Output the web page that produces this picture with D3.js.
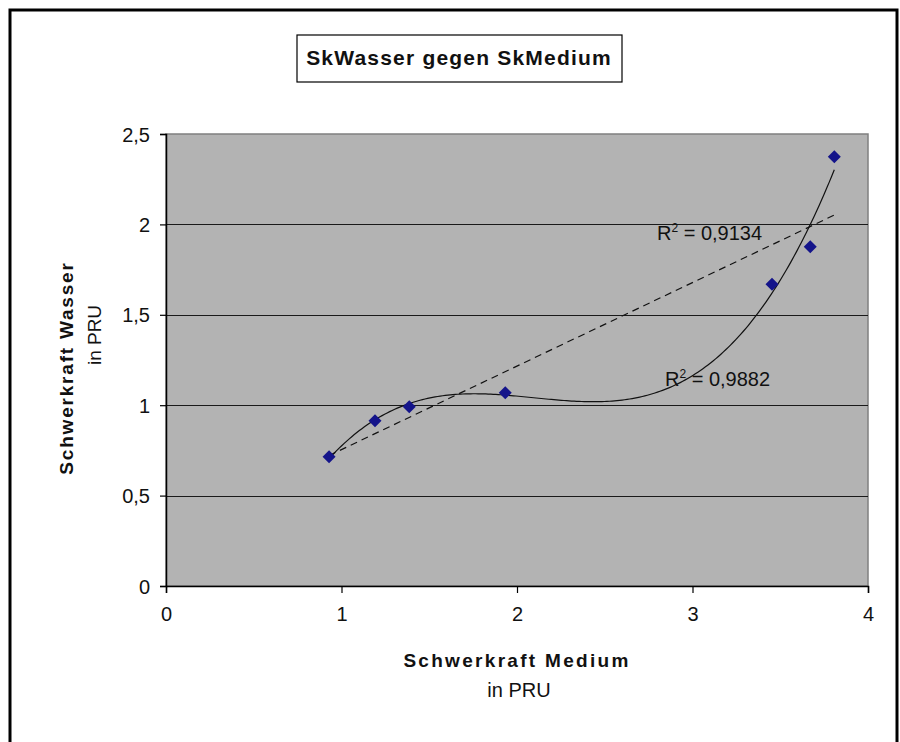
<!DOCTYPE html>
<html><head><meta charset="utf-8">
<script src="https://cdn.jsdelivr.net/npm/d3@7"></script>
<style>body{margin:0;background:#fff;}svg{display:block;font-family:"Liberation Sans",Arial,sans-serif;}</style>
</head><body>
<svg id="c" width="900" height="742"></svg>
<script>
const title = "SkWasser gegen SkMedium";
const xTitle = "Schwerkraft Medium";
const yTitle = "Schwerkraft Wasser";
const unitLabel = "in PRU";
const xValues = [0.929, 1.191, 1.386, 1.933, 3.453, 3.671, 3.808];
const yValues = [0.715, 0.914, 0.992, 1.069, 1.669, 1.877, 2.374];
const xTicks = [0, 1, 2, 3, 4];
const yTicks = [0, 0.5, 1, 1.5, 2, 2.5];
const r2Labels = ["0,9134", "0,9882"];
const polyOrder = 3;

const svg = d3.select("#c");
const plot = {l:166, r:868, t:134, b:586};
const x = d3.scaleLinear().domain([0,4]).range([plot.l, plot.r]);
const y = d3.scaleLinear().domain([0,2.5]).range([plot.b, plot.t]);
const fmt = v => String(v).replace(".", ",");

// outer frame
svg.append("rect").attr("x",10).attr("y",10).attr("width",887).attr("height",760)
  .attr("fill","#fff").attr("stroke","#000").attr("stroke-width",3);

// title box
svg.append("rect").attr("x",297).attr("y",35).attr("width",325).attr("height",47)
  .attr("fill","#fff").attr("stroke","#000").attr("stroke-width",1.2);
svg.append("text").attr("x",459).attr("y",65).attr("text-anchor","middle")
  .attr("font-size",21).attr("font-weight","bold").attr("letter-spacing",1.2).attr("fill","#111").text(title);

// plot area
svg.append("rect").attr("x",plot.l).attr("y",plot.t).attr("width",plot.r-plot.l).attr("height",plot.b-plot.t)
  .attr("fill","#b3b3b3").attr("stroke","#808080").attr("stroke-width",1.5);

// gridlines
svg.append("g").selectAll("line").data(yTicks.filter(d=>d>0 && d<2.5)).join("line")
  .attr("x1",plot.l).attr("x2",plot.r).attr("y1",d=>Math.round(y(d))+0.5).attr("y2",d=>Math.round(y(d))+0.5)
  .attr("stroke","#1a1a1a").attr("stroke-width",1);

// axes
const xAxis = d3.axisBottom(x).tickValues(xTicks).tickSize(7).tickPadding(14).tickFormat(fmt);
const yAxis = d3.axisLeft(y).tickValues(yTicks).tickSize(6).tickPadding(10).tickFormat(fmt);
const gx = svg.append("g").attr("transform",`translate(0,${plot.b})`).call(xAxis);
const gy = svg.append("g").attr("transform",`translate(${plot.l},0)`).call(yAxis);
[gx,gy].forEach(g=>{
  g.select(".domain").attr("stroke","#000").attr("stroke-width",1.5);
  g.selectAll(".tick line").attr("stroke","#000").attr("stroke-width",1.2);
  g.selectAll("text").attr("font-size",20).attr("fill","#111").attr("font-family","Liberation Sans, Arial, sans-serif");
});
gy.selectAll("text").attr("dy","0.35em");

// least-squares trendlines (computed from the data)
function polyfit(xs, ys, n){
  const m = n+1;
  const A = Array.from({length:m},()=>new Array(m+1).fill(0));
  for(let i=0;i<m;i++){
    for(let j=0;j<m;j++) A[i][j] = d3.sum(xs, v=>Math.pow(v,i+j));
    A[i][m] = d3.sum(xs.map((v,k)=>Math.pow(v,i)*ys[k]));
  }
  for(let i=0;i<m;i++){
    let p=i; for(let k=i+1;k<m;k++) if(Math.abs(A[k][i])>Math.abs(A[p][i])) p=k;
    [A[i],A[p]]=[A[p],A[i]];
    for(let k=0;k<m;k++){ if(k===i) continue; const f=A[k][i]/A[i][i]; for(let j=i;j<=m;j++) A[k][j]-=f*A[i][j]; }
  }
  return A.map((r,i)=>r[m]/r[i]);
}
const evalP = (c,v)=>c.reduce((s,ci,i)=>s+ci*Math.pow(v,i),0);

const xmin=d3.min(xValues), xmax=d3.max(xValues);
const lin = polyfit(xValues,yValues,1);
svg.append("line").attr("x1",x(xmin)).attr("y1",y(evalP(lin,xmin))).attr("x2",x(xmax)).attr("y2",y(evalP(lin,xmax)))
  .attr("stroke","#111").attr("stroke-width",1.2).attr("stroke-dasharray","7,5");

const poly = polyfit(xValues,yValues,polyOrder);
const pts = d3.range(0,201).map(i=>xmin+(xmax-xmin)*i/200);
svg.append("path").datum(pts).attr("fill","none").attr("stroke","#111").attr("stroke-width",1.2)
  .attr("d",d3.line().x(v=>x(v)).y(v=>y(evalP(poly,v))));

// markers
svg.append("g").selectAll("path").data(xValues.map((v,i)=>[v,yValues[i]])).join("path")
  .attr("transform",d=>`translate(${x(d[0])},${y(d[1])})`)
  .attr("d","M0,-6.5L6.5,0L0,6.5L-6.5,0Z").attr("fill","#14148a");

// R2 labels
const r2g = svg.append("g").attr("font-size",20).attr("fill","#111");
[[657,240,r2Labels[0]],[665,386,r2Labels[1]]].forEach(([px,py,t])=>{
  const tx = r2g.append("text").attr("x",px).attr("y",py);
  tx.append("tspan").text("R");
  tx.append("tspan").attr("font-size",12).attr("dy",-8).text("2");
  tx.append("tspan").attr("dy",8).text(" = "+t);
});

// axis titles
svg.append("text").attr("x",517).attr("y",667).attr("text-anchor","middle").attr("font-size",19)
  .attr("font-weight","bold").attr("letter-spacing",2.3).attr("fill","#111").text(xTitle);
svg.append("text").attr("x",519).attr("y",697).attr("text-anchor","middle").attr("font-size",20).attr("fill","#111").text(unitLabel);
svg.append("text").attr("transform","translate(73,368) rotate(-90)").attr("text-anchor","middle").attr("font-size",19)
  .attr("font-weight","bold").attr("letter-spacing",1.8).attr("fill","#111").text(yTitle);
svg.append("text").attr("transform","translate(101,335) rotate(-90)").attr("text-anchor","middle").attr("font-size",19)
  .attr("fill","#111").text(unitLabel);
</script>
</body></html>
